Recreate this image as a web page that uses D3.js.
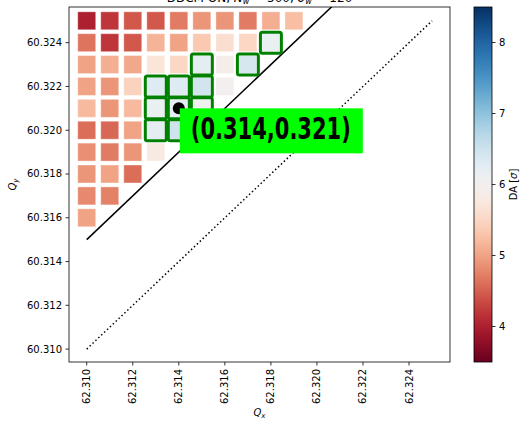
<!DOCTYPE html>
<html><head><meta charset="utf-8">
<script src="https://cdn.jsdelivr.net/npm/d3@7"></script>
<style>body{margin:0;background:#fff}svg{display:block;font-family:"DejaVu Sans",sans-serif}</style>
</head><body>
<svg id="c" width="522" height="422"></svg>
<script>
// ---- data ----
const qxValues = [62.310,62.311,62.312,62.313,62.314,62.315,62.316,62.317,62.318,62.319];
const qyValues = [60.325,60.324,60.323,60.322,60.321,60.320,60.319,60.318,60.317,60.316];
const daRows = [
  [4.0,4.2,4.45,4.45,4.7,4.9,4.9,4.7,5.1,5.25],
  [4.65,4.2,4.45,5.15,5.0,5.35,5.6,5.5,6.15],
  [5.0,5.1,5.05,5.7,5.5,6.25,5.9,6.4],
  [5.0,4.9,5.45,6.3,6.3,6.45,6.0],
  [5.2,4.9,5.2,6.15,6.25,6.05],
  [4.6,4.55,5.0,6.25,6.5,6.3],
  [4.85,4.7,4.9,5.8],
  [4.9,5.0,4.6],
  [4.8,4.75],
  [5.0]
];
const highlightQx = [62.318,62.315,62.317,62.313,62.314,62.315,62.313,62.314,62.315,62.313,62.314,62.315];
const highlightQy = [60.324,60.323,60.323,60.322,60.322,60.322,60.321,60.321,60.321,60.320,60.320,60.320];
const chosenPoint = [62.314, 60.321];
const chosenLabel = "(0.314,0.321)";
const solidLineQx = [62.310, 62.325];
const solidOffset = 1.995;
const dottedLineQx = [62.310, 62.325];
const dottedOffset = 2.0;
const xTicks = [62.310,62.312,62.314,62.316,62.318,62.320,62.322,62.324];
const yTicks = [60.310,60.312,60.314,60.316,60.318,60.320,60.322,60.324];
const cbTicks = [4,5,6,7,8];
const cbDomain = [3.5, 8.5];

// ---- layout ----
const svg = d3.select("#c");
const L = 69, R = 450, T = 7, B = 362;
const x = d3.scaleLinear().domain([62.30923, 62.32578]).range([L, R]);
const y = d3.scaleLinear().domain([60.30941, 60.32563]).range([B, T]);
const color = d3.scaleSequential(d3.interpolateRdBu).domain(cbDomain);

// title (mostly cut off at top, as in the reference)
const tt = svg.append("text").attr("x", (L+R)/2).attr("y", 2).attr("text-anchor","middle").attr("font-size",12);
tt.append("tspan").text("DDCM ON, ");
tt.append("tspan").attr("font-style","italic").text("N");
tt.append("tspan").attr("font-style","italic").attr("font-size",8).attr("dy",2).text("w");
tt.append("tspan").attr("dy",-2).text(" = 500, ");
tt.append("tspan").attr("font-style","italic").text("σ");
tt.append("tspan").attr("font-style","italic").attr("font-size",8).attr("dy",2).text("w");
tt.append("tspan").attr("dy",-2).text(" = 120");

svg.append("defs").append("clipPath").attr("id","clip")
  .append("rect").attr("x",L).attr("y",T).attr("width",R-L).attr("height",B-T);

const plot = svg.append("g").attr("clip-path","url(#clip)");

const cells = [];
daRows.forEach((row, i) => row.forEach((v, j) => cells.push({qx: qxValues[j], qy: qyValues[i], v})));
const step = x(qxValues[1]) - x(qxValues[0]);
const size = step * 0.78;

plot.selectAll("rect.cell").data(cells).enter().append("rect")
  .attr("class","cell")
  .attr("x", d => x(d.qx) - size/2).attr("y", d => y(d.qy) - size/2)
  .attr("width", size).attr("height", size)
  .attr("fill", d => color(d.v))
  .attr("stroke", "#fff").attr("stroke-opacity", 0.35).attr("stroke-width", 1);

// lines
const line = d3.line().x(d => x(d[0])).y(d => y(d[1]));
plot.append("path").datum(solidLineQx.map(q => [q, q - solidOffset]))
  .attr("d", line).attr("stroke","#000").attr("stroke-width",1.5).attr("fill","none");
plot.append("path").datum(dottedLineQx.map(q => [q, q - dottedOffset]))
  .attr("d", line).attr("stroke","#000").attr("stroke-width",1.5).attr("fill","none")
  .attr("stroke-dasharray","1.5,2.5");

// highlighted cells
const hs = size + 3;
const hl = highlightQx.map((q, i) => ({qx: q, qy: highlightQy[i]}));
plot.selectAll("rect.hl").data(hl).enter().append("rect")
  .attr("class","hl")
  .attr("x", d => x(d.qx) - hs/2).attr("y", d => y(d.qy) - hs/2)
  .attr("width", hs).attr("height", hs).attr("rx", 2)
  .attr("fill","none").attr("stroke","#008000").attr("stroke-width",3);

// chosen point
plot.append("circle").attr("cx", x(chosenPoint[0])).attr("cy", y(chosenPoint[1])).attr("r", 6).attr("fill","#000");

// label box
const lx = x(chosenPoint[0]) + 1, ly = y(chosenPoint[1]);
const labelTextWidth = 160;
const lbl = svg.append("g");
lbl.append("rect").attr("fill","#00ff00")
  .attr("x", lx).attr("y", ly).attr("width", labelTextWidth + 23).attr("height", 45);
lbl.append("text").attr("x", lx + 11).attr("y", ly + 31)
  .attr("font-weight","bold").attr("font-size",31)
  .attr("textLength", labelTextWidth).attr("lengthAdjust","spacingAndGlyphs")
  .text(chosenLabel);

// frame
svg.append("rect").attr("x",L).attr("y",T).attr("width",R-L).attr("height",B-T)
  .attr("fill","none").attr("stroke","#000").attr("stroke-width",0.8);

// x axis
const xa = svg.append("g");
xTicks.forEach(t => {
  xa.append("line").attr("x1",x(t)).attr("x2",x(t)).attr("y1",B).attr("y2",B+3.5).attr("stroke","#000").attr("stroke-width",0.8);
  xa.append("text").attr("transform",`translate(${x(t)},${B+7})rotate(-90)`)
    .attr("text-anchor","end").attr("dy","0.35em").attr("font-size",10).text(t.toFixed(3));
});
const xl = svg.append("text").attr("x",(L+R)/2).attr("y",416).attr("text-anchor","middle").attr("font-size",10);
xl.append("tspan").attr("font-style","italic").text("Q");
xl.append("tspan").attr("font-style","italic").attr("font-size",7).attr("dy",2).text("x");

// y axis
const ya = svg.append("g");
yTicks.forEach(t => {
  ya.append("line").attr("x1",L-3.5).attr("x2",L).attr("y1",y(t)).attr("y2",y(t)).attr("stroke","#000").attr("stroke-width",0.8);
  ya.append("text").attr("x",L-7).attr("y",y(t)).attr("text-anchor","end").attr("dy","0.35em").attr("font-size",10).text(t.toFixed(3));
});
const yl = svg.append("text").attr("transform",`translate(16,${(T+B)/2})rotate(-90)`).attr("text-anchor","middle").attr("font-size",10);
yl.append("tspan").attr("font-style","italic").text("Q");
yl.append("tspan").attr("font-style","italic").attr("font-size",7).attr("dy",2).text("y");

// colorbar
const CL = 474, CR = 492;
const cy = d3.scaleLinear().domain(cbDomain).range([B, T]);
const grad = svg.select("defs").append("linearGradient").attr("id","cbg")
  .attr("x1",0).attr("y1",1).attr("x2",0).attr("y2",0);
d3.range(0, 1.0001, 0.02).forEach(f => {
  grad.append("stop").attr("offset", f).attr("stop-color", color(cbDomain[0] + f*(cbDomain[1]-cbDomain[0])));
});
svg.append("rect").attr("x",CL).attr("y",T).attr("width",CR-CL).attr("height",B-T)
  .attr("fill","url(#cbg)").attr("stroke","#000").attr("stroke-width",0.8);
cbTicks.forEach(t => {
  svg.append("line").attr("x1",CR).attr("x2",CR+3.5).attr("y1",cy(t)).attr("y2",cy(t)).attr("stroke","#000").attr("stroke-width",0.8);
  svg.append("text").attr("x",CR+7).attr("y",cy(t)).attr("dy","0.35em").attr("font-size",10).text(t);
});
const cl = svg.append("text").attr("transform",`translate(517,${(T+B)/2})rotate(-90)`).attr("text-anchor","middle").attr("font-size",10);
cl.append("tspan").text("DA [");
cl.append("tspan").attr("font-style","italic").text("σ");
cl.append("tspan").text("]");
</script>
</body></html>
